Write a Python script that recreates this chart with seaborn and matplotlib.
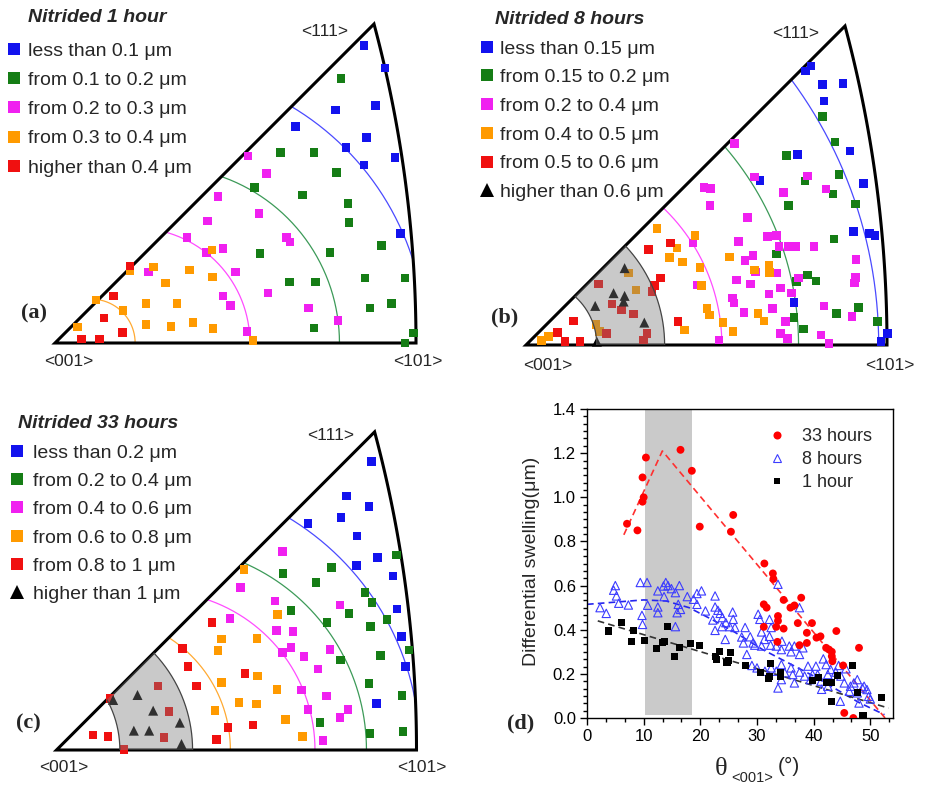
import numpy as np
import pandas as pd
import matplotlib
matplotlib.use("Agg")
import matplotlib.pyplot as plt
import seaborn as sns
from matplotlib.patches import Polygon
from matplotlib.lines import Line2D
from matplotlib.ticker import MultipleLocator, AutoMinorLocator, FormatStrFormatter

# ---------------------------------------------------------------- data
# Inverse-pole-figure positions measured from <001>; the <001>-<101> edge = TRI_UNIT
TRI_UNIT = 1080.0

# (a) Nitrided 1 hour
a_blue_x = [925, 987, 840, 958, 720, 932, 870, 1017, 925, 1033]
a_blue_y = [890, 823, 697, 710, 647, 615, 585, 555, 533, 327]
a_green_x = [855, 675, 775, 843, 597, 740, 877, 880, 977, 613, 823, 927, 1047, 702, 780, 942, 1007, 775, 1073, 1047]
a_green_y = [792, 570, 570, 510, 465, 443, 417, 360, 292, 268, 270, 195, 195, 183, 183, 105, 118, 45, 30, 0]
a_mag_x = [578, 633, 487, 610, 457, 395, 503, 453, 692, 703, 280, 540, 503, 525, 637, 758, 847, 575]
a_mag_y = [560, 507, 438, 388, 365, 315, 282, 270, 315, 302, 212, 212, 140, 112, 150, 105, 68, 35]
a_org_x = [470, 295, 225, 402, 330, 472, 123, 203, 272, 365, 272, 347, 413, 473, 67, 592]
a_org_y = [278, 228, 215, 218, 180, 198, 128, 98, 118, 118, 55, 50, 62, 43, 48, 8]
a_red_x = [225, 175, 147, 202, 80, 133]
a_red_y = [230, 140, 75, 32, 12, 12]
a_labels = ["less than 0.1 μm", "from 0.1 to 0.2 μm", "from 0.2 to 0.3 μm",
            "from 0.3 to 0.4 μm", "higher than 0.4 μm"]

# (b) Nitrided 8 hours
b_blue_x = [837, 852, 887, 949, 892, 969, 812, 700, 1009, 980, 1027, 1044, 802, 1082, 1062]
b_blue_y = [820, 835, 780, 782, 730, 580, 570, 492, 483, 340, 333, 328, 127, 35, 10]
b_green_x = [887, 925, 780, 937, 835, 919, 785, 985, 922, 750, 842, 867, 810, 929, 995, 802, 830, 1052]
b_green_y = [683, 607, 567, 510, 490, 452, 418, 422, 317, 272, 210, 192, 190, 95, 113, 82, 48, 70]
b_mag_x = [624, 684, 842, 532, 552, 770, 897, 550, 662, 499, 635, 722, 749, 757, 785, 807, 862, 679, 655, 687,
           750, 987, 629, 672, 727, 762, 795, 815, 985, 982, 512, 525, 617, 622, 652, 737, 892, 975, 777, 762,
           782, 882, 907, 577]
b_mag_y = [602, 502, 505, 472, 468, 457, 467, 418, 382, 305, 310, 325, 328, 295, 295, 295, 295, 267, 252, 218,
           215, 255, 195, 183, 153, 170, 155, 200, 202, 185, 180, 180, 140, 125, 98, 110, 117, 85, 70, 35,
           20, 30, 5, 15]
b_org_x = [392, 505, 452, 429, 469, 520, 609, 684, 727, 729, 307, 329, 525, 542, 549, 694, 712, 589, 619, 475,
           210, 220, 67, 47]
b_org_y = [348, 328, 290, 262, 248, 232, 263, 225, 238, 217, 215, 165, 178, 110, 90, 95, 72, 68, 40, 45,
           62, 40, 25, 13]
b_red_x = [432, 367, 402, 385, 377, 217, 257, 285, 322, 142, 95, 117, 162, 240, 362, 352, 455]
b_red_y = [305, 285, 200, 178, 160, 183, 123, 105, 93, 72, 38, 10, 10, 35, 35, 15, 70]
b_tri_x = [295, 262, 295, 292, 207, 354, 212]
b_tri_y = [230, 155, 147, 130, 117, 67, 10]
b_labels = ["less than 0.15 μm", "from 0.15 to 0.2 μm", "from 0.2 to 0.4 μm",
            "from 0.4 to 0.5 μm", "from 0.5 to 0.6 μm", "higher than 0.6 μm"]

# (c) Nitrided 33 hours
c_blue_x = [945, 870, 938, 853, 755, 902, 963, 900, 1010, 1022, 1035, 1047, 960]
c_blue_y = [865, 762, 730, 697, 680, 642, 578, 553, 522, 423, 340, 250, 140]
c_green_x = [1020, 825, 680, 778, 925, 947, 703, 878, 992, 812, 942, 1058, 972, 852, 937, 1037, 790, 940, 1040]
c_green_y = [585, 547, 530, 503, 473, 443, 418, 410, 392, 382, 370, 300, 283, 270, 200, 163, 82, 50, 55]
c_mag_x = [678, 552, 655, 850, 520, 660, 710, 820, 703, 678, 743, 785, 735, 810, 755, 875, 850, 800]
c_mag_y = [595, 488, 447, 435, 395, 358, 355, 302, 307, 293, 280, 243, 180, 162, 122, 122, 98, 28]
c_org_x = [563, 663, 495, 602, 485, 603, 495, 662, 547, 600, 475, 687, 738]
c_org_y = [542, 407, 333, 335, 298, 222, 203, 182, 142, 138, 118, 92, 40]
c_red_x = [467, 378, 395, 420, 565, 305, 338, 515, 590, 480, 322, 110, 155, 203, 160]
c_red_y = [383, 305, 250, 192, 230, 192, 115, 67, 75, 32, 38, 45, 40, 2, 155]
c_tri_x = [170, 243, 290, 232, 278, 370, 375]
c_tri_y = [150, 165, 118, 58, 58, 82, 18]
c_labels = ["less than 0.2 μm", "from 0.2 to 0.4 μm", "from 0.4 to 0.6 μm",
            "from 0.6 to 0.8 μm", "from 0.8 to 1 μm", "higher than 1 μm"]

# iso-swelling arcs: (crossing on <001>-<111> edge, crossing on <001>-<101> line), normalised
a_arcs = {"orange": (0.12, 0.222), "magenta": (0.307, 0.540), "green": (0.461, 0.788), "blue": (0.655, 1.027)}
b_arcs = {"magenta": (0.38, 0.5425), "green": (0.55, 0.755), "blue": (0.735, 0.977)}
b_band = ((0.135, 0.196), (0.275, 0.384))
c_arcs = {"orange": (0.312, 0.483), "magenta": (0.418, 0.718), "green": (0.52, 0.861), "blue": (0.645, 1.009)}
c_band = ((0.14, 0.176), (0.27, 0.378))

# (d) differential swelling vs theta_<001>
red33_x = [7.06, 8.9, 9.8, 10.0, 9.8, 10.4, 16.5, 18.5, 19.9, 25.4, 25.8, 31.3, 32.8, 32.9, 31.2, 31.7, 31.2,
           33.7, 33.7, 33.4, 34.7, 34.7, 35.9, 36.6, 37.8, 37.2, 37.5, 38.8, 38.8, 39.7, 40.5, 41.2, 42.2,
           42.7, 43.2, 43.2, 43.3, 44.0, 45.2, 45.4, 47.0, 48.0, 33.6]
red33_y = [0.88, 0.85, 0.98, 1.0, 1.09, 1.18, 1.215, 1.12, 0.867, 0.844, 0.92, 0.70, 0.655, 0.63, 0.515, 0.50,
           0.413, 0.462, 0.44, 0.413, 0.405, 0.535, 0.50, 0.51, 0.545, 0.43, 0.33, 0.34, 0.386, 0.43, 0.364,
           0.37, 0.318, 0.31, 0.30, 0.28, 0.257, 0.394, 0.238, 0.023, 0.0, 0.318, 0.345]
blue8_x = [2.3, 3.4, 4.7, 5.0, 5.2, 5.6, 7.3, 9.4, 10.6, 10.7, 9.7, 9.8, 12.5, 12.5, 12.5, 13.5, 13.9, 14.3,
           14.9, 13.6, 15.6, 16.3, 16.1, 15.9, 15.6, 17.7, 18.8, 19.4, 20.2, 19.4, 22.6, 22.6, 23.1, 23.5,
           23.9, 24.5, 25.7, 25.8, 24.4, 23.8, 25.2, 16.5, 20.9, 22.2, 22.6, 26.1, 27.9, 27.3, 27.6, 28.8,
           29.3, 30.2, 30.5, 32.2, 30.8, 31.3, 32.2, 32.5, 28.2, 29.6, 30.8, 32.4, 33.4, 33.7, 34.4, 34.3,
           35.7, 36.0, 36.6, 37.5, 37.5, 38.1, 32.5, 33.4, 34.3, 34.3, 34.9, 36.0, 36.3, 36.6, 37.5, 38.4,
           39.0, 31.4, 30.0, 29.1, 33.7, 40.7, 40.4, 41.7, 42.2, 42.5, 43.0, 43.9, 44.8, 45.7, 46.5, 47.1,
           47.7, 48.6, 48.9, 49.7, 50.0, 41.3, 42.5, 45.4, 46.3, 47.7, 48.0, 39.8, 39.4, 44.4, 44.7, 41.4, 49.4]
blue8_y = [0.50, 0.474, 0.579, 0.60, 0.553, 0.52, 0.512, 0.614, 0.614, 0.511, 0.465, 0.424, 0.576, 0.503,
           0.477, 0.598, 0.614, 0.60, 0.586, 0.55, 0.568, 0.60, 0.515, 0.477, 0.414, 0.55, 0.538, 0.564,
           0.576, 0.515, 0.553, 0.503, 0.488, 0.474, 0.455, 0.432, 0.48, 0.447, 0.356, 0.414, 0.414, 0.492,
           0.485, 0.444, 0.397, 0.41, 0.41, 0.367, 0.34, 0.368, 0.34, 0.47, 0.447, 0.447, 0.39, 0.356, 0.37,
           0.41, 0.288, 0.33, 0.326, 0.33, 0.326, 0.606, 0.348, 0.31, 0.326, 0.30, 0.326, 0.50, 0.288, 0.318,
           0.227, 0.212, 0.242, 0.174, 0.205, 0.227, 0.197, 0.159, 0.208, 0.19, 0.235, 0.212, 0.227, 0.238,
           0.136, 0.197, 0.235, 0.268, 0.242, 0.197, 0.22, 0.208, 0.19, 0.223, 0.144, 0.159, 0.174, 0.136,
           0.144, 0.098, 0.086, 0.167, 0.144, 0.159, 0.121, 0.114, 0.068, 0.197, 0.174, 0.238, 0.076, 0.13,
           0.129]
blk1_x = [3.85, 6.1, 7.9, 8.2, 10.1, 12.3, 13.3, 13.7, 14.2, 15.5, 16.3, 18.3, 19.9, 22.6, 22.9, 23.4, 24.7,
          25.0, 25.4, 27.9, 30.6, 32.2, 32.4, 32.1, 34.2, 34.2, 39.8, 40.8, 42.2, 43.2, 43.2, 44.2, 46.8,
          47.7, 48.7, 51.9]
blk1_y = [0.394, 0.432, 0.345, 0.398, 0.353, 0.315, 0.341, 0.348, 0.415, 0.28, 0.321, 0.338, 0.33, 0.28,
          0.265, 0.30, 0.253, 0.262, 0.298, 0.238, 0.205, 0.19, 0.247, 0.177, 0.205, 0.186, 0.171, 0.182,
          0.162, 0.162, 0.076, 0.192, 0.238, 0.114, 0.011, 0.091]
fit33_x = [6.5, 13.3, 52.6]
fit33_y = [0.83, 1.21, 0.0]
fit8_x = [0, 5, 10, 14, 18, 22, 26, 31, 40, 48, 52.5]
fit8_y = [0.515, 0.525, 0.535, 0.53, 0.50, 0.447, 0.39, 0.31, 0.19, 0.07, 0.015]
fit1_x = [1.9, 53.2]
fit1_y = [0.44, 0.045]
band_lo, band_hi = 10.2, 18.6
d_labels = ["33 hours", "8 hours", "1 hour"]

# ---------------------------------------------------------------- style
sns.set_theme(style="white")
plt.rcParams["font.family"] = ["Liberation Sans", "DejaVu Sans"]

W, H = 930, 787
fig = plt.figure(figsize=(W / 100, H / 100), dpi=100)


def fxy(px, py):
    return (px / W, 1 - py / H)


COL = {"blue": "#1212ee", "green": "#157d15", "magenta": "#f020f0",
       "orange": "#ff9a00", "red": "#f01010", "black": "#000000"}
ARC_COL = {"blue": "#4a4aff", "green": "#3c9a58", "magenta": "#ff4cff", "orange": "#ffaa33"}

S_CEN = -1.0 / np.tan(np.pi / 8)
S_RAD = np.sqrt(2) / np.tan(np.pi / 8)
P111 = (1.0 / (np.sqrt(3) + 1)) / np.tan(np.pi / 8)


def triangle_path():
    phi_end = np.arctan2(P111, P111 - S_CEN)
    phi = np.linspace(0, phi_end, 80)
    xs = S_CEN + S_RAD * np.cos(phi)
    ys = S_RAD * np.sin(phi)
    pts = [(0, 0)] + list(zip(xs, ys))
    return np.array(pts)


def circle_from(t, xb):
    c = (xb ** 2 - 2 * t ** 2) / (2 * (xb - t))
    r = abs(xb - c)
    phi = np.linspace(0, np.pi, 400)
    return c + r * np.cos(phi), r * np.sin(phi)


def triangle_panel(region, origin, base, series, arcs, band, legend_cfg, texts):
    x0, y0, x1, y1 = region
    ox, oy = origin
    ax = fig.add_axes([x0 / W, 1 - y1 / H, (x1 - x0) / W, (y1 - y0) / H])
    ax.set_xlim((x0 - ox) / base, (x1 - ox) / base)
    ax.set_ylim((oy - y1) / base, (oy - y0) / base)
    ax.axis("off")

    tri = Polygon(triangle_path(), closed=True, fill=False, edgecolor="black", lw=2.2,
                  joinstyle="miter", zorder=2)
    ax.add_patch(tri)

    for name, (t, xb) in arcs.items():
        cx, cy = circle_from(t, xb)
        ln, = ax.plot(cx, cy, color=ARC_COL[name], lw=0.9, zorder=1.5)
        ln.set_clip_path(tri)

    for lab, xs, ys, col, mk in series:
        df = pd.DataFrame({"x": np.array(xs) / TRI_UNIT, "y": np.array(ys) / TRI_UNIT})
        sns.scatterplot(data=df, x="x", y="y", marker=mk, color=col, edgecolor="none",
                        linewidth=0, s=52 if mk == "^" else 38, ax=ax, zorder=3, legend=False)

    if band is not None:
        (ti, xi), (to, xo) = band
        ix, iy = circle_from(ti, xi)
        ox_, oy_ = circle_from(to, xo)
        poly = np.vstack([np.column_stack([ox_, oy_]), np.column_stack([ix[::-1], iy[::-1]])])
        bp = Polygon(poly, closed=True, facecolor="#7a7a7a", alpha=0.4, edgecolor="none", zorder=4)
        ax.add_patch(bp)
        bp.set_clip_path(tri)
        for cx, cy in ((ix, iy), (ox_, oy_)):
            ln, = ax.plot(cx, cy, color="#444444", lw=0.9, zorder=5)
            ln.set_clip_path(tri)

    ax.set_xlabel("")
    ax.set_ylabel("")

    handles = []
    for lab, xs, ys, col, mk in series:
        handles.append(Line2D([], [], ls="none", marker=mk, color=col, markeredgewidth=0,
                              markersize=9.5 if mk == "^" else 8.6))
    labels = [s[0] for s in series]
    lx, ly, pad, spacing = legend_cfg
    ax.legend(handles, labels, loc="upper left", bbox_to_anchor=fxy(lx, ly),
              bbox_transform=fig.transFigure, frameon=False, fontsize=14,
              handlelength=0.7, handletextpad=pad, labelspacing=spacing,
              borderpad=0, borderaxespad=0)

    title, tpos, v111, v001, v101, letter, lpos = texts
    fig.text(*fxy(*tpos), title, fontsize=14, fontweight="bold", fontstyle="italic",
             ha="left", va="center")
    fig.text(*fxy(*v111), "<111>", fontsize=12.5, ha="center", va="center")
    fig.text(*fxy(*v001), "<001>", fontsize=12.5, ha="center", va="center")
    fig.text(*fxy(*v101), "<101>", fontsize=12.5, ha="center", va="center")
    fig.text(*fxy(*lpos), letter, fontsize=16, fontweight="bold",
             family=["Liberation Serif", "DejaVu Serif"], ha="center", va="center")
    return ax


# (a)
series_a = [(a_labels[0], a_blue_x, a_blue_y, COL["blue"], "s"),
            (a_labels[1], a_green_x, a_green_y, COL["green"], "s"),
            (a_labels[2], a_mag_x, a_mag_y, COL["magenta"], "s"),
            (a_labels[3], a_org_x, a_org_y, COL["orange"], "s"),
            (a_labels[4], a_red_x, a_red_y, COL["red"], "s")]
triangle_panel((0, 0, 465, 385), (55, 343), 361, series_a, a_arcs, None,
               (7.2, 42, 0.37, 0.60),
               ("Nitrided 1 hour", (28, 18), (325, 31), (69, 362), (418, 362), "(a)", (34, 313)))

# (b)
series_b = [(b_labels[0], b_blue_x, b_blue_y, COL["blue"], "s"),
            (b_labels[1], b_green_x, b_green_y, COL["green"], "s"),
            (b_labels[2], b_mag_x, b_mag_y, COL["magenta"], "s"),
            (b_labels[3], b_org_x, b_org_y, COL["orange"], "s"),
            (b_labels[4], b_red_x, b_red_y, COL["red"], "s"),
            (b_labels[5], b_tri_x, b_tri_y, COL["black"], "^")]
triangle_panel((465, 0, 930, 385), (526, 345), 361, series_b, b_arcs, b_band,
               (480.2, 40, 0.32, 0.57),
               ("Nitrided 8 hours", (495, 20), (796, 33), (548, 365), (890, 365), "(b)", (505, 317)))

# (c)
series_c = [(c_labels[0], c_blue_x, c_blue_y, COL["blue"], "s"),
            (c_labels[1], c_green_x, c_green_y, COL["green"], "s"),
            (c_labels[2], c_mag_x, c_mag_y, COL["magenta"], "s"),
            (c_labels[3], c_org_x, c_org_y, COL["orange"], "s"),
            (c_labels[4], c_red_x, c_red_y, COL["red"], "s"),
            (c_labels[5], c_tri_x, c_tri_y, COL["black"], "^")]
triangle_panel((0, 390, 465, 787), (56.5, 750), 360, series_c, c_arcs, c_band,
               (10.2, 444, 0.47, 0.55),
               ("Nitrided 33 hours", (18, 423), (331, 435), (64, 767), (422, 767), "(c)", (28, 723)))

# (d)
axd = fig.add_axes([587 / W, 1 - 718 / H, (893 - 587) / W, (718 - 409) / H])
axd.axvspan(band_lo, band_hi, ymin=0.01, ymax=1, color="#cacaca", lw=0, zorder=0)
axd.plot(fit8_x, fit8_y, color="#2525ee", lw=1.2, dashes=(4, 2.5), zorder=2)
axd.plot(fit1_x, fit1_y, color="#333333", lw=1.2, dashes=(4, 2.5), zorder=2)
axd.plot(fit33_x, fit33_y, color="#ff3030", lw=1.2, dashes=(4, 2.5), zorder=2)
sns.scatterplot(x=blue8_x, y=blue8_y, marker="^", color="none", edgecolor="#3c3cff",
                linewidth=0.8, s=36, ax=axd, zorder=3, legend=False)
sns.scatterplot(x=blk1_x, y=blk1_y, marker="s", color="black", edgecolor="none",
                linewidth=0, s=26, ax=axd, zorder=4, legend=False)
sns.scatterplot(x=red33_x, y=red33_y, marker="o", color="#ff0000", edgecolor="none",
                linewidth=0, s=32, ax=axd, zorder=5, legend=False)
axd.set_xlim(0, 54)
axd.set_ylim(0, 1.4)
axd.xaxis.set_major_locator(MultipleLocator(10))
axd.xaxis.set_minor_locator(AutoMinorLocator(3))
axd.yaxis.set_major_locator(MultipleLocator(0.2))
axd.yaxis.set_minor_locator(AutoMinorLocator(6))
axd.yaxis.set_major_formatter(FormatStrFormatter("%.1f"))
axd.tick_params(which="both", direction="out", bottom=True, left=True, top=False, right=False,
                labelsize=12, width=1, color="black", labelcolor="black")
axd.tick_params(which="major", length=5, pad=3)
axd.tick_params(which="minor", length=2.6)
for sp in axd.spines.values():
    sp.set_color("black")
    sp.set_linewidth(1)
axd.set_xlabel("")
axd.set_ylabel("")
hd = [Line2D([], [], ls="none", marker="o", color="#ff0000", markeredgewidth=0, markersize=5.8),
      Line2D([], [], ls="none", marker="^", markerfacecolor="none", markeredgecolor="#3c3cff",
             markeredgewidth=0.8, markersize=6),
      Line2D([], [], ls="none", marker="s", color="black", markeredgewidth=0, markersize=5)]
axd.legend(hd, d_labels, loc="upper left", bbox_to_anchor=fxy(768, 428), bbox_transform=fig.transFigure,
           frameon=False, fontsize=13, handlelength=1.0, handletextpad=0.89, labelspacing=0.33,
           borderpad=0, borderaxespad=0)
fig.text(*fxy(531, 561), "Differential swelling(μm)", fontsize=14, rotation=90, ha="center", va="center")
fig.text(*fxy(721, 769), "θ", fontsize=19, family=["Liberation Serif", "DejaVu Serif"], ha="center", va="center")
fig.text(*fxy(752, 778), "<001>", fontsize=10.5, ha="center", va="center")
fig.text(*fxy(789, 766), "(°)", fontsize=15, ha="center", va="center")
fig.text(*fxy(521, 723), "(d)", fontsize=16, fontweight="bold",
         family=["Liberation Serif", "DejaVu Serif"], ha="center", va="center")

fig.savefig("out.png", dpi=100)
